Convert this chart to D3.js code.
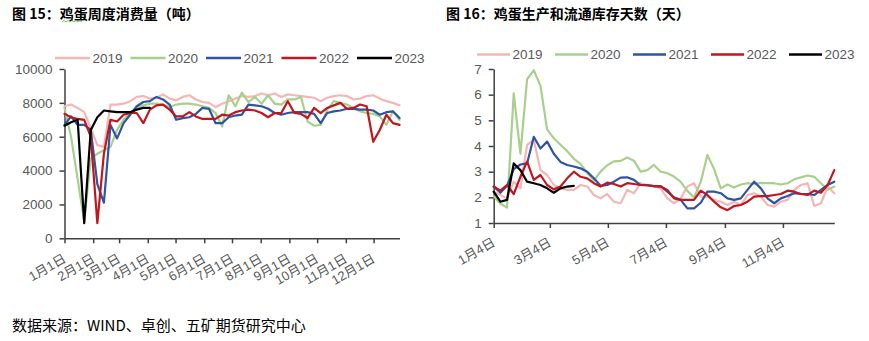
<!DOCTYPE html>
<html><head><meta charset="utf-8">
<script src="https://cdn.jsdelivr.net/npm/d3@7"></script>
<style>
body{margin:0;background:#fff;}
svg text{font-family:"Liberation Sans","Noto Sans CJK SC",sans-serif;}
</style></head><body>
<svg id="c" width="869" height="341"></svg>
<script>
// ---------- data ----------
const years = ["2019","2020","2021","2022","2023"];
const colors = ["#F4B6B6","#A8D08D","#2E54A2","#C0161F","#000000"];

// Figure 15: weekly egg consumption (tons)
const cons2019 = [7800,7900,7700,7450,6500,5500,5400,7900,7900,7950,8100,8350,8400,8250,8300,8500,8250,8150,8350,8450,8200,8050,8000,7750,7950,8100,8250,8400,8350,8400,8550,8450,8550,8350,8500,8450,8400,8350,8300,8100,8300,8400,8450,8400,8200,8250,8400,8450,8250,8100,8000,7850];
const cons2020 = [7700,6000,3500,1000,4700,5000,5200,5400,6400,7000,7400,7700,7850,7950,7950,7900,7750,7900,7950,7950,7900,7800,7700,7400,6600,8450,7800,8600,8050,8350,7950,8450,7950,7900,8200,8200,8350,6900,6650,6700,7600,8100,8000,7900,7700,7500,7400,7350,7200,6700,7500,7000];
const cons2021 = [6700,7200,6700,6700,6400,3200,2100,6700,5900,6800,7300,7800,8050,8100,8350,8200,7900,7000,7100,7150,7350,7700,7650,6800,6800,7150,7250,7300,7900,7850,7800,7650,7400,7300,7400,7450,7450,7450,7350,6800,7400,7500,7550,7650,7650,7600,7600,7550,7300,7450,7500,7100];
const cons2022 = [7350,7150,7050,7000,6000,900,5000,7000,6900,7300,7400,7400,6800,7600,7850,7900,7600,7200,7200,7450,7200,7050,7050,7050,7300,7250,7450,7550,7600,7550,7400,7150,7400,7400,8100,7400,7350,7100,7700,7400,7700,7850,8000,7650,7700,7900,7800,5700,6400,7300,6800,6700];
const cons2023 = [6650,6850,7000,900,6400,7150,7550,7500,7450,7450,7450,7600,7700,7700];

// Figure 16: egg production & circulation inventory days
const days2019 = [2.22,2.09,1.96,2.61,2.35,4.04,4.23,3.06,2.87,2.48,2.35,2.29,2.29,2.48,2.42,2.09,1.96,2.13,1.83,1.77,2.29,2.16,2.55,2.48,2.42,2.35,1.96,1.77,1.96,2.42,2.55,2.03,2.03,1.9,1.83,1.7,1.83,1.7,2.09,2.16,2.03,1.7,1.64,1.83,1.9,2.29,2.48,2.55,1.66,1.77,2.42,2.16];
const days2020 = [2.05,1.75,1.6,6.05,3.7,6.6,6.95,6.35,4.65,4.3,4.05,3.8,3.5,3.3,2.95,2.65,3.0,3.25,3.4,3.42,3.55,3.43,3.0,3.06,3.26,3.0,2.94,2.81,2.6,2.25,2.0,2.6,3.65,3.1,2.35,2.5,2.38,2.5,2.55,2.52,2.56,2.55,2.55,2.5,2.55,2.7,2.78,2.85,2.8,2.55,2.3,2.42];
const days2021 = [2.42,2.18,2.45,3.1,3.28,3.32,4.36,3.9,4.17,3.7,3.38,3.26,3.2,3.13,3.0,2.74,2.45,2.48,2.61,2.77,2.78,2.68,2.48,2.48,2.44,2.44,2.22,2.0,1.9,1.57,1.57,1.79,2.22,2.22,2.16,1.96,1.9,1.96,2.29,2.61,2.35,1.96,1.77,1.96,2.05,2.16,2.13,2.13,2.09,2.29,2.48,2.61];
const days2022 = [2.42,2.26,2.48,2.13,2.8,3.39,2.68,2.87,2.48,2.31,2.42,2.74,3.0,2.8,2.74,2.55,2.42,2.57,2.52,2.42,2.55,2.52,2.48,2.46,2.44,2.42,2.29,1.96,1.9,1.9,1.9,2.26,2.09,1.83,1.61,1.5,1.66,1.7,1.83,2.03,2.05,2.05,2.09,2.13,2.26,2.22,2.13,2.09,2.26,2.18,2.48,3.06];
const days2023 = [2.22,1.83,1.9,3.32,3.06,2.61,2.55,2.48,2.35,2.18,2.35,2.42,2.45];

const leftYTicks = [0,2000,4000,6000,8000,10000];
const leftXLabels = ["1月1日","2月1日","3月1日","4月1日","5月1日","6月1日","7月1日","8月1日","9月1日","10月1日","11月1日","12月1日"];
const rightYTicks = [1,2,3,4,5,6,7];
const rightXLabels = ["1月4日","3月4日","5月4日","7月4日","9月4日","11月4日"];

const title15 = "图 15：鸡蛋周度消费量（吨）";
const title16 = "图 16：鸡蛋生产和流通库存天数（天）";
const source = "数据来源：WIND、卓创、五矿期货研究中心";

// ---------- drawing ----------
const svg = d3.select("#c");
const axisColor = "#404040", textColor = "#595959";

function drawChart(o){
  const g = svg.append("g");
  const y = d3.scaleLinear().domain(o.yDomain).range([o.bottom, o.top]);
  const xd = d3.scaleTime().domain(o.dateDomain).range([o.left, o.right]);
  const xw = d3.scaleLinear().domain([0, 51]).range([o.left, o.right]);

  // title
  g.append("text").attr("x", o.titleX).attr("y", 19)
    .attr("font-size", 14).attr("font-weight", "bold").attr("fill", "#000")
    .style("font-family", '"Noto Sans CJK SC",sans-serif')
    .text(o.title);

  // legend
  o.series.forEach((s, i) => {
    const lx = o.legX + i * o.legStep;
    g.append("line").attr("x1", lx).attr("x2", lx + o.legLen)
      .attr("y1", o.legY).attr("y2", o.legY)
      .attr("stroke", colors[i]).attr("stroke-width", 2.5);
    g.append("text").attr("x", lx + o.legLen + 2.5).attr("y", o.legY)
      .attr("dy", "0.35em").attr("font-size", 13.5).attr("fill", textColor)
      .text(years[i]);
  });

  // y axis
  const ya = g.append("g").attr("transform", `translate(${o.left},0)`)
    .call(d3.axisLeft(y).tickValues(o.yTicks).tickSize(5).tickSizeOuter(0).tickPadding(7)
      .tickFormat(d3.format("d")));
  ya.select(".domain").attr("stroke", axisColor).attr("stroke-width", 1.5);
  ya.selectAll(".tick line").attr("stroke", axisColor).attr("stroke-width", 1.5);
  ya.selectAll("text").attr("font-size", 13.5).attr("fill", textColor)
    .style("font-family", '"Liberation Sans",sans-serif');

  // x axis
  const xa = g.append("g").attr("transform", `translate(0,${o.bottom})`)
    .call(d3.axisBottom(xd).tickValues(o.tickDates).tickSize(5).tickSizeOuter(0)
      .tickFormat((d, i) => o.xLabels[i]));
  xa.select(".domain").attr("stroke", axisColor).attr("stroke-width", 1.5);
  xa.selectAll(".tick line").attr("stroke", axisColor).attr("stroke-width", 1.5);
  xa.selectAll("text").attr("font-size", 13).attr("fill", textColor)
    .attr("text-anchor", "end").attr("x", 0).attr("y", 0).attr("dy", null)
    .attr("transform", `translate(${o.lblDx},${o.lblDy}) rotate(-30)`);

  // series
  const line = d3.line().x((d, i) => xw(i)).y(d => y(d));
  o.series.forEach((s, i) => {
    g.append("path").datum(s).attr("d", line).attr("fill", "none")
      .attr("stroke", colors[i]).attr("stroke-width", 2.2)
      .attr("stroke-linejoin", "round").attr("stroke-linecap", "round");
  });
  return g;
}

const yr = 2023;
drawChart({
  title: title15, titleX: 12,
  left: 64.5, right: 399.5, top: 69, bottom: 238.3,
  yDomain: [0, 10000], yTicks: leftYTicks,
  dateDomain: [new Date(yr,0,1), new Date(yr,11,29)],
  tickDates: d3.range(12).map(m => new Date(yr, m, 1)),
  xLabels: leftXLabels, lblDx: 2, lblDy: 23,
  legX: 55, legStep: 75.5, legLen: 35, legY: 58,
  series: [cons2019, cons2020, cons2021, cons2022, cons2023]
});
drawChart({
  title: title16, titleX: 446,
  left: 493.7, right: 834.3, top: 69, bottom: 223,
  yDomain: [1, 7], yTicks: rightYTicks,
  dateDomain: [new Date(yr,0,4), new Date(yr,11,28)],
  tickDates: [0,2,4,6,8,10].map(m => new Date(yr, m, 4)),
  xLabels: rightXLabels, lblDx: 2, lblDy: 22,
  legX: 477, legStep: 78, legLen: 33, legY: 54.5,
  series: [days2019, days2020, days2021, days2022, days2023]
});

// spell-check squiggle under 鸡蛋 in title 15
const sq = d3.range(0, 22, 2).map((d, i) => [62 + d, i % 2 ? 20.5 : 22]);
svg.append("path").attr("d", d3.line()(sq)).attr("fill", "none")
  .attr("stroke", "#4CAF50").attr("stroke-width", 0.8);

svg.append("text").attr("x", 12).attr("y", 331).attr("font-size", 15).attr("fill", "#000")
  .style("font-family", '"Noto Sans CJK SC",sans-serif').text(source);
</script>
</body></html>
